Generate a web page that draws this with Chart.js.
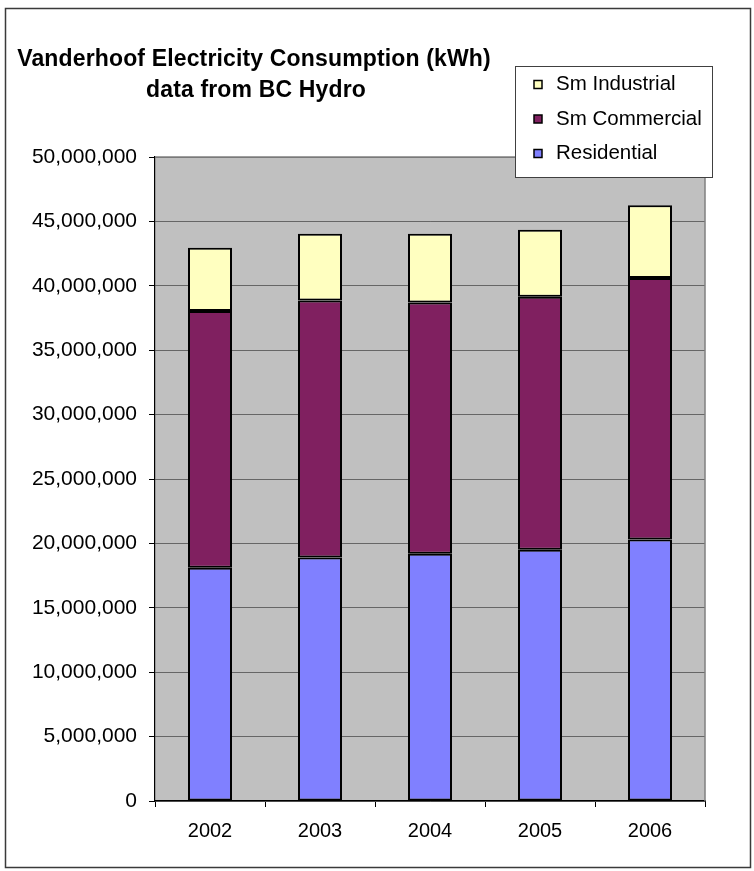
<!DOCTYPE html>
<html>
<head>
<meta charset="utf-8">
<script src="https://cdn.jsdelivr.net/npm/chart.js@4.4.1/dist/chart.umd.min.js"></script>
<style>
  html, body { margin: 0; padding: 0; background: #fff; }
  #wrap { position: relative; width: 754px; height: 871px; }
</style>
</head>
<body>
<div id="wrap"><canvas id="consumption"></canvas></div>
<script>
const years = ["2002", "2003", "2004", "2005", "2006"];
const residential = [18100000, 18900000, 19200000, 19500000, 20300000];
const smCommercial = [19950000, 19950000, 19500000, 19650000, 20300000];
const smIndustrial = [4900000, 5200000, 5350000, 5200000, 5650000];
const titleLines = ["Vanderhoof Electricity Consumption (kWh)", "data from BC Hydro"];

const FONT = "'Liberation Sans', Arial, sans-serif";

// grey plot background, painted under the grid
const plotBackground = {
  id: "plotBackground",
  beforeDraw(chart) {
    const { ctx, chartArea: a } = chart;
    ctx.save();
    ctx.fillStyle = "#c0c0c0";
    ctx.fillRect(a.left, a.top, a.right - a.left, a.bottom - a.top);
    ctx.restore();
  },
  beforeDatasetsDraw(chart) {
    const { ctx, chartArea: a } = chart;
    ctx.save();
    ctx.strokeStyle = "#808080";
    ctx.lineWidth = 1.5;
    ctx.beginPath();
    ctx.moveTo(a.left, a.top);
    ctx.lineTo(a.right, a.top);
    ctx.lineTo(a.right, a.bottom);
    ctx.stroke();
    ctx.restore();
  }
};

// title, boxed legend and outer frame
const decorations = {
  id: "decorations",
  afterDraw(chart) {
    const ctx = chart.ctx;
    ctx.save();

    ctx.strokeStyle = "#3a3a3a";
    ctx.lineWidth = 1.5;
    ctx.strokeRect(5.5, 8.5, 745, 859);

    ctx.fillStyle = "#000";
    ctx.textBaseline = "alphabetic";
    ctx.textAlign = "center";
    ctx.font = "bold 23px " + FONT;
    ctx.letterSpacing = "0.15px";
    ctx.fillText(titleLines[0], 254, 66);
    ctx.fillText(titleLines[1], 256, 97);
    ctx.letterSpacing = "0px";

    // legend box
    ctx.fillStyle = "#fff";
    ctx.fillRect(515, 66, 197, 111);
    ctx.strokeStyle = "#404040";
    ctx.lineWidth = 1;
    ctx.strokeRect(515.5, 66.5, 197, 111);

    const items = chart.data.datasets.slice().reverse();
    ctx.font = "20.5px " + FONT;
    ctx.textAlign = "left";
    ctx.textBaseline = "middle";
    items.forEach((ds, i) => {
      const y = 84.5 + i * 34.5;
      ctx.fillStyle = ds.backgroundColor;
      ctx.fillRect(534, y - 4, 8, 8);
      ctx.strokeStyle = "#000";
      ctx.lineWidth = 1.5;
      ctx.strokeRect(534, y - 4, 8, 8);
      ctx.fillStyle = "#000";
      ctx.fillText(ds.label, 556, y);
    });
    ctx.restore();
  }
};

const ctx = document.getElementById("consumption").getContext("2d");

new Chart(ctx, {
  type: "bar",
  data: {
    labels: years,
    datasets: [
      { label: "Residential", data: residential, backgroundColor: "#8080ff" },
      { label: "Sm Commercial", data: smCommercial, backgroundColor: "#802060" },
      { label: "Sm Industrial", data: smIndustrial, backgroundColor: "#ffffc0" }
    ].map(d => Object.assign(d, {
      borderColor: "#000",
      borderWidth: 2,
      borderSkipped: false,
      categoryPercentage: 0.4,
      barPercentage: 1
    }))
  },
  options: {
    responsive: true,
    maintainAspectRatio: false,
    animation: false,
    layout: { padding: { top: 157, right: 49, left: 0, bottom: 0 } },
    plugins: {
      legend: { display: false },
      title: { display: false },
      tooltip: { enabled: false }
    },
    scales: {
      x: {
        stacked: true,
        grid: { offset: true, drawOnChartArea: false, tickLength: 6, tickColor: "#000" },
        border: { color: "#000", width: 1.2 },
        ticks: { color: "#000", padding: 12, maxRotation: 0, font: { family: FONT, size: 20 } },
        afterFit(scale) { scale.height = 70; }
      },
      y: {
        stacked: true,
        min: 0,
        max: 50000000,
        grid: { color: "#666", tickLength: 6, tickColor: "#000" },
        border: { color: "#000", width: 1.2 },
        ticks: {
          stepSize: 5000000,
          color: "#000",
          padding: 12,
          font: { family: FONT, size: 21 },
          callback: v => Number(v).toLocaleString("en-US")
        },
        afterFit(scale) { scale.width = 155; }
      }
    }
  },
  plugins: [plotBackground, decorations]
});
</script>
</body>
</html>
